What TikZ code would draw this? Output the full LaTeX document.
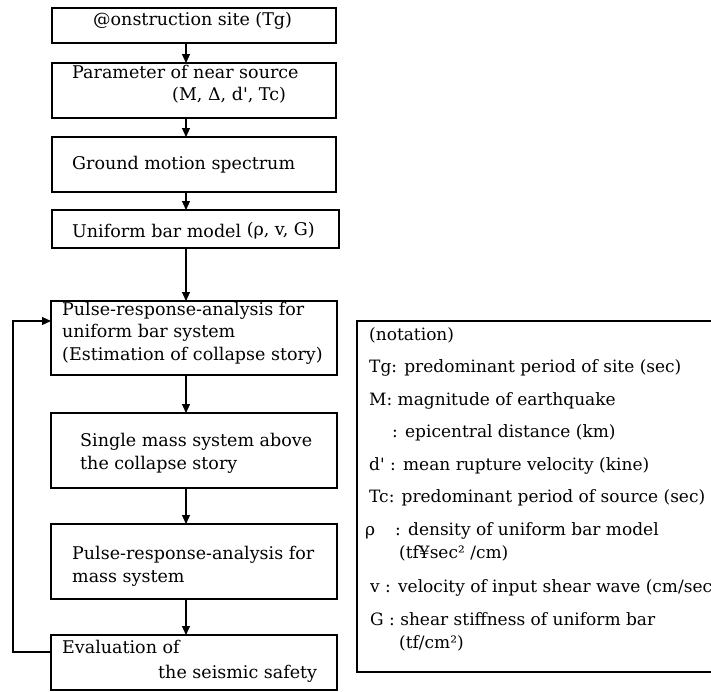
\documentclass[tikz,border=0pt]{standalone}
\usepackage{fontspec}
\setmainfont{DejaVu Serif}
\usetikzlibrary{arrows.meta}

\tikzset{
    box/.style={draw, line width=1.1pt, inner sep=0pt, outer sep=0pt},
    txt/.style={anchor=base west, inner sep=0pt, font=\fontsize{17.5}{21}\selectfont},
    note/.style={txt, font=\fontsize{17}{21}\selectfont},
    flow/.style={line width=1.1pt, -{Triangle[length=9pt, width=8pt]}}
}

\begin{document}
\begin{tikzpicture}[x=1pt, y=-1pt]
        \useasboundingbox (0, 0) rectangle (711, 691);
        \clip (0, 0) rectangle (711, 691);

        % flow boxes
        \node[box, minimum width=284pt, minimum height=35pt] at (194, 25.5) (site) {};
        \node[box, minimum width=284pt, minimum height=55pt] at (194, 90.5) (source) {};
        \node[box, minimum width=284pt, minimum height=55pt] at (194, 164.5) (spectrum) {};
        \node[box, minimum width=287pt, minimum height=38pt] at (195.5, 229) (bar) {};
        \node[box, minimum width=286pt, minimum height=74pt] at (194, 338) (pulsebar) {};
        \node[box, minimum width=286pt, minimum height=75pt] at (194, 450.5) (single) {};
        \node[box, minimum width=286pt, minimum height=75pt] at (194, 561.5) (pulsemass) {};
        \node[box, minimum width=286pt, minimum height=55pt] at (194, 662.5) (safety) {};

        % box texts
        \node[txt] at (93, 25) (tsite) {@onstruction site (Tg)};
        \node[txt] at (72, 78) (tsource1) {Parameter of near source};
        \node[txt] at (172, 100) (tsource2) {(M, Δ, d\textquotesingle, Tc)};
        \node[txt] at (72, 169) (tspectrum) {Ground motion spectrum};
        \node[txt] at (72, 237) (tbar) {Uniform bar model \raisebox{2pt}{(ρ, v, G)}};
        \node[txt] at (62, 315) (tpulsebar1) {Pulse-response-analysis for};
        \node[txt] at (62, 337.5) (tpulsebar2) {uniform bar system};
        \node[txt] at (62, 360) (tpulsebar3) {(Estimation of collapse story)};
        \node[txt] at (80, 446) (tsingle1) {Single mass system above};
        \node[txt] at (80, 469) (tsingle2) {the collapse story};
        \node[txt] at (72, 559) (tpulsemass1) {Pulse-response-analysis for};
        \node[txt] at (72, 582) (tpulsemass2) {mass system};
        \node[txt] at (62, 653) (tsafety1) {Evaluation of};
        \node[txt] at (158, 678) (tsafety2) {the seismic safety};

        % connectors
        \coordinate (ax) at (186, 0);
        \draw[flow] (site.south -| ax) -- (source.north -| ax);
        \draw[flow] (source.south -| ax) -- (spectrum.north -| ax);
        \draw[flow] (spectrum.south -| ax) -- (bar.north -| ax);
        \draw[flow] (bar.south -| ax) -- (pulsebar.north -| ax);
        \draw[flow] (pulsebar.south -| ax) -- (single.north -| ax);
        \draw[flow] (single.south -| ax) -- (pulsemass.north -| ax);
        \draw[flow] (pulsemass.south -| ax) -- (safety.north -| ax);

        % feedback loop
        \coordinate (back) at (13, 480);
        \draw[flow] ([yshift=10.5pt]safety.west) -| (back) |- ([yshift=17pt]pulsebar.west);

        % notation
        \node[box, minimum width=373pt, minimum height=351pt] at (543.5, 496.5) (notation) {};
        \node[note] at (369, 340) (n0) {(notation)};
        \node[note] at (369, 372) (n1) {Tg: predominant period of site (sec)};
        \node[note] at (369, 405) (n2) {M: magnitude of earthquake};
        \node[note] at (392, 437) (n3) {: epicentral distance (km)};
        \node[note] at (369, 470) (n4) {d\textquotesingle\ : mean rupture velocity (kine)};
        \node[note] at (369, 502) (n5) {Tc: predominant period of source (sec)};
        \node[note] at (365, 535) (n6) {ρ\hspace{20pt}: density of uniform bar model};
        \node[note] at (399, 558) (n7) {(tf¥sec² /cm)};
        \node[note] at (370, 592) (n8) {v : velocity of input shear wave (cm/sec)};
        \node[note] at (370, 625) (n9) {G : shear stiffness of uniform bar};
        \node[note] at (399, 648) (n10) {(tf/cm²)};
    \end{tikzpicture}
\end{document}
